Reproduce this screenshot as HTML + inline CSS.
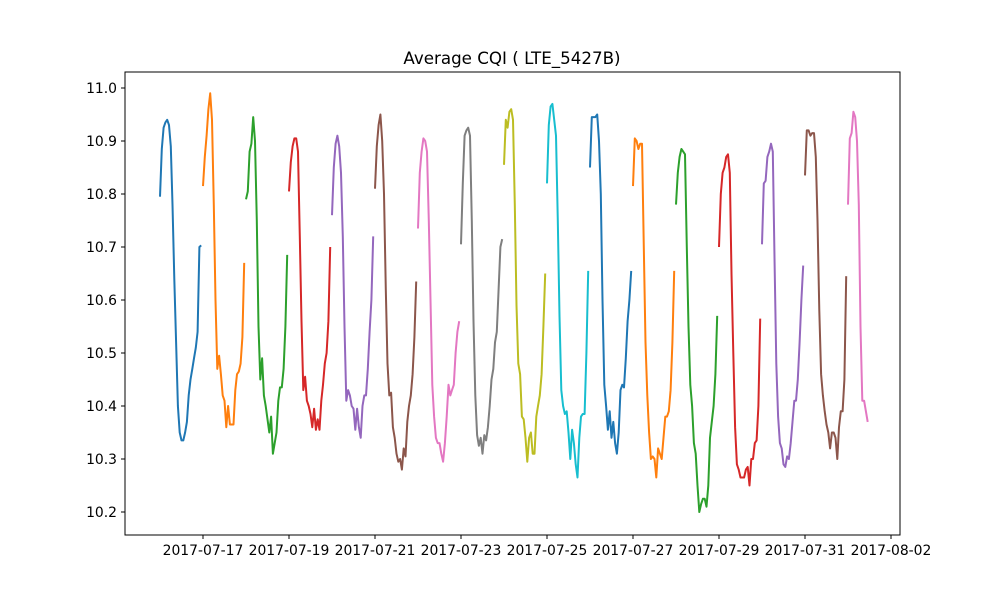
<!DOCTYPE html>
<html><head><meta charset="utf-8"><style>
body{margin:0;background:#fff;}
svg{display:block;font-family:"DejaVu Sans","Liberation Sans",sans-serif;}
</style></head><body>
<svg id="chart" width="1000" height="600"></svg>
<script>
const title = "Average CQI ( LTE_5427B)";
const dayLabels = ["2017-07-17","2017-07-19","2017-07-21","2017-07-23","2017-07-25","2017-07-27","2017-07-29","2017-07-31","2017-08-02"];
const yTicks = [10.2,10.3,10.4,10.5,10.6,10.7,10.8,10.9,11.0];
const colors = ["#1f77b4","#ff7f0e","#2ca02c","#d62728","#9467bd","#8c564b","#e377c2","#7f7f7f","#bcbd22","#17becf"];
const d0716=[10.795,10.885,10.925,10.935,10.94,10.93,10.89,10.78,10.64,10.52,10.40,10.35,10.335,10.335,10.35,10.37,10.42,10.45,10.47,10.49,10.51,10.54,10.70,10.703];
const d0717=[10.815,10.87,10.91,10.96,10.99,10.94,10.78,10.60,10.47,10.495,10.46,10.42,10.41,10.36,10.40,10.365,10.365,10.365,10.43,10.46,10.465,10.48,10.53,10.67];
const d0718=[10.79,10.805,10.88,10.895,10.945,10.90,10.75,10.55,10.45,10.49,10.42,10.40,10.375,10.35,10.38,10.31,10.33,10.35,10.41,10.435,10.435,10.47,10.55,10.685];
const d0719=[10.805,10.86,10.89,10.905,10.905,10.88,10.72,10.56,10.43,10.455,10.41,10.40,10.385,10.36,10.395,10.355,10.375,10.355,10.41,10.44,10.48,10.50,10.56,10.70];
const d0720=[10.76,10.85,10.895,10.91,10.89,10.84,10.72,10.55,10.41,10.43,10.42,10.40,10.395,10.355,10.395,10.36,10.34,10.40,10.42,10.42,10.47,10.54,10.60,10.72];
const d0721=[10.81,10.89,10.93,10.95,10.90,10.80,10.62,10.48,10.42,10.425,10.36,10.34,10.31,10.295,10.30,10.28,10.32,10.305,10.37,10.40,10.42,10.46,10.53,10.635];
const d0722=[10.735,10.84,10.88,10.905,10.90,10.88,10.75,10.60,10.44,10.38,10.34,10.33,10.33,10.31,10.295,10.33,10.38,10.44,10.42,10.43,10.44,10.50,10.54,10.56];
const d0723=[10.705,10.82,10.91,10.92,10.925,10.91,10.75,10.56,10.42,10.345,10.325,10.34,10.31,10.345,10.335,10.36,10.40,10.45,10.47,10.52,10.54,10.62,10.70,10.715];
const d0724=[10.855,10.94,10.925,10.955,10.96,10.94,10.78,10.59,10.48,10.46,10.38,10.375,10.34,10.295,10.34,10.35,10.31,10.31,10.38,10.40,10.42,10.46,10.55,10.65];
const d0725=[10.82,10.93,10.965,10.97,10.94,10.91,10.75,10.57,10.43,10.40,10.385,10.39,10.35,10.30,10.355,10.33,10.29,10.265,10.34,10.38,10.385,10.385,10.50,10.655];
const d0726=[10.85,10.945,10.945,10.945,10.95,10.90,10.80,10.60,10.44,10.40,10.355,10.39,10.34,10.37,10.33,10.31,10.35,10.43,10.44,10.435,10.49,10.56,10.60,10.655];
const d0727=[10.815,10.905,10.90,10.885,10.895,10.895,10.70,10.52,10.42,10.35,10.30,10.305,10.30,10.265,10.32,10.31,10.30,10.34,10.38,10.38,10.39,10.43,10.52,10.655];
const d0728=[10.78,10.84,10.87,10.885,10.88,10.875,10.70,10.55,10.44,10.40,10.33,10.31,10.25,10.20,10.215,10.225,10.225,10.21,10.25,10.34,10.37,10.40,10.46,10.57];
const d0729=[10.70,10.80,10.84,10.85,10.87,10.875,10.84,10.65,10.50,10.36,10.29,10.28,10.265,10.265,10.265,10.28,10.285,10.25,10.30,10.30,10.33,10.335,10.40,10.565];
const d0730=[10.705,10.82,10.825,10.87,10.88,10.895,10.88,10.68,10.48,10.38,10.33,10.32,10.29,10.285,10.305,10.30,10.33,10.37,10.41,10.41,10.45,10.52,10.60,10.665];
const d0731=[10.835,10.92,10.92,10.91,10.915,10.915,10.87,10.75,10.58,10.46,10.42,10.39,10.365,10.35,10.32,10.35,10.35,10.34,10.30,10.36,10.39,10.39,10.45,10.645];
const d0801=[10.78,10.905,10.915,10.955,10.945,10.90,10.78,10.55,10.41,10.41,10.39,10.37];
const days=[d0716,d0717,d0718,d0719,d0720,d0721,d0722,d0723,d0724,d0725,d0726,d0727,d0728,d0729,d0730,d0731,d0801];

const NS="http://www.w3.org/2000/svg";
const svg=document.getElementById('chart');
const L=125,R=900,T=72,B=535;
const xs=d=>160+d*43;
const ys=v=>88+(11.0-v)*530;
function mk(tag,attrs){const e=document.createElementNS(NS,tag);for(const k in attrs)e.setAttribute(k,attrs[k]);svg.appendChild(e);return e;}

days.forEach((arr,di)=>{
  const pts=arr.map((v,i)=>xs(di+i/24).toFixed(1)+","+ys(v).toFixed(1)).join(" ");
  const p=mk('polyline',{points:pts,fill:'none',stroke:colors[di%10],'stroke-width':2,'stroke-linejoin':'round'});
  
  
});

const frame=mk('rect',{x:L,y:T,width:R-L,height:B-T,fill:'none',stroke:'#000','stroke-width':1});



dayLabels.forEach((lab,i)=>{
  const x=xs(1+2*i);
  mk('line',{x1:x,y1:B,x2:x,y2:B+4,stroke:'#000'});
  const t=mk('text',{x:x,y:B+20,'text-anchor':'middle','font-size':13.9,fill:'#000'});
  t.textContent=lab;
  
  
});
yTicks.forEach(v=>{
  const y=ys(v);
  mk('line',{x1:L-4,y1:y,x2:L,y2:y,stroke:'#000'});
  const t=mk('text',{x:L-8,y:y+5,'text-anchor':'end','font-size':13.9,fill:'#000'});
  t.textContent=v.toFixed(1);
  
  
});
const tt=mk('text',{x:512,y:64,'text-anchor':'middle','font-size':16.7,fill:'#000'});
tt.textContent=title;


</script>
</body></html>
